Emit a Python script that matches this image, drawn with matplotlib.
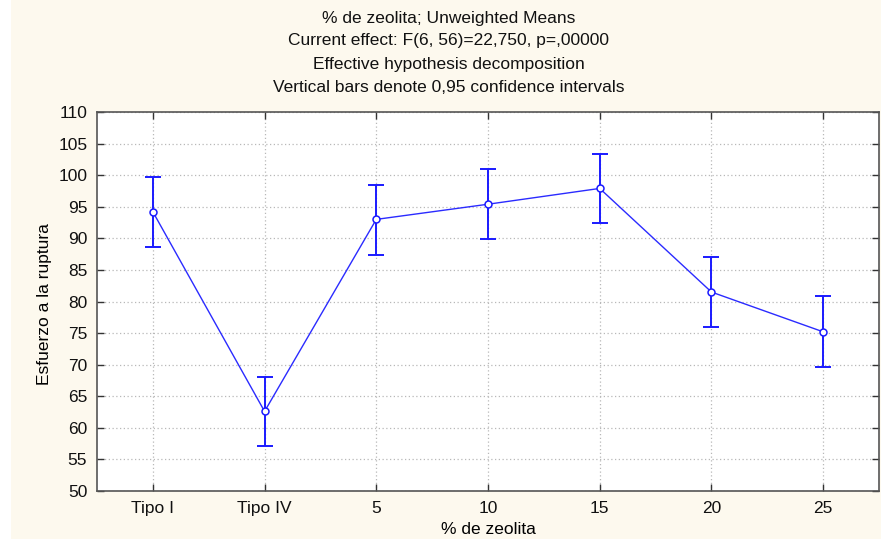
import matplotlib
matplotlib.use("Agg")
import matplotlib.pyplot as plt
from matplotlib.patches import Rectangle
import numpy as np

plt.rcParams['font.family'] = ['Liberation Sans', 'DejaVu Sans']

# data
categories = ["Tipo I", "Tipo IV", "5", "10", "15", "20", "25"]
means = [94.2, 62.6, 93.0, 95.4, 97.9, 81.5, 75.2]
ci_low = [88.6, 57.2, 87.4, 89.9, 92.4, 76.0, 69.7]
ci_high = [99.7, 68.0, 98.5, 101.0, 103.4, 87.0, 80.8]

titles = ["% de zeolita; Unweighted Means",
          "Current effect: F(6, 56)=22,750, p=,00000",
          "Effective hypothesis decomposition",
          "Vertical bars denote 0,95 confidence intervals"]

FS = 12.5

W, H = 881, 539
fig = plt.figure(figsize=(W / 100, H / 100), dpi=100)
fig.patch.set_facecolor("#fdf9ee")
# white strip on the left edge of the screenshot
fig.patches.append(Rectangle((0, 0), 11 / W, 1, transform=fig.transFigure,
                             facecolor="white", edgecolor="none", zorder=-1))

ax = fig.add_axes([97 / W, 1 - 491 / H, (879 - 97) / W, (491 - 112) / H])
ax.set_facecolor("white")

x = np.arange(len(categories))
m = np.array(means)
yerr = [m - np.array(ci_low), np.array(ci_high) - m]

ax.errorbar(x, m, yerr=yerr, fmt="none", ecolor="#1a1aff", elinewidth=1.4,
            capsize=5.8, capthick=1.4, zorder=3)
ax.plot(x, m, color="#2b2bff", lw=1.0, marker="o", ms=5, mfc="white",
        mec="#1a1aff", mew=1.1, zorder=4)

ax.set_xlim(-0.5, 6.5)
ax.set_ylim(50, 110)
ax.set_xticks(x)
ax.set_xticklabels(categories)
ax.set_yticks(np.arange(50, 111, 5))
ax.tick_params(direction="in", top=True, right=True, length=5, width=1,
               colors="#333333", labelcolor="#111111", labelsize=FS)
ax.tick_params(axis="x", pad=7)
ax.tick_params(axis="y", pad=7)
ax.grid(True, color="#b8b8b8", linestyle=(0, (1, 2)), linewidth=0.9)
for s in ax.spines.values():
    s.set_color("#555555")
    s.set_linewidth(1.2)

ax.set_xlabel("% de zeolita", fontsize=FS)
ax.set_ylabel("Esfuerzo a la ruptura", fontsize=FS)
ax.xaxis.set_label_coords(0.5, (491 - 522) / 379)
ax.yaxis.set_label_coords((52 - 97) / 782, 0.493)

for i, t in enumerate(titles):
    fig.text(449 / W, 1 - (18 + 23 * i) / H, t, ha="center", va="center",
             fontsize=FS, color="#111111")

fig.savefig("out.png", dpi=100, facecolor=fig.get_facecolor())
